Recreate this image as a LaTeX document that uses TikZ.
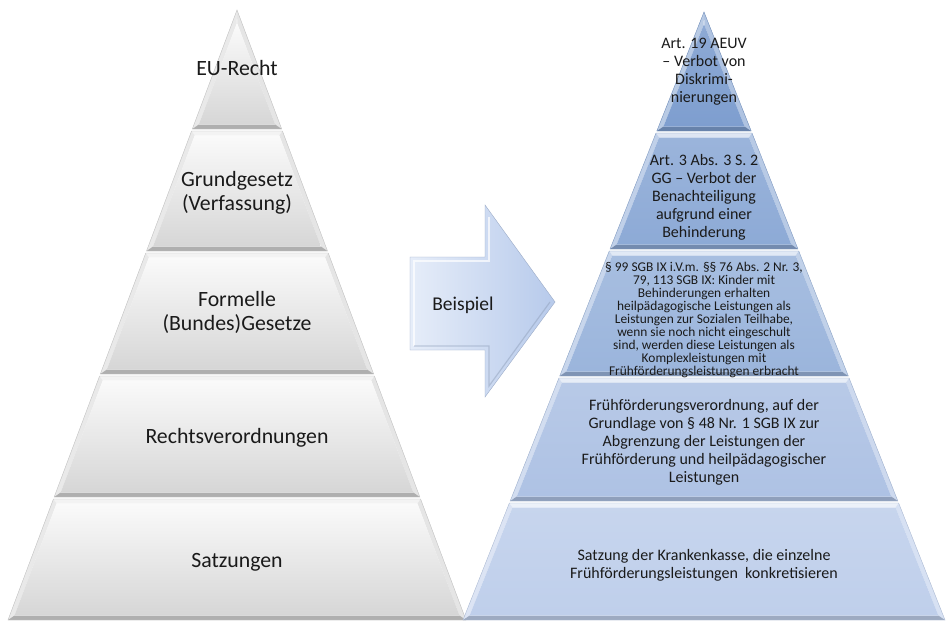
\documentclass[tikz,border=0pt]{standalone}
\usepackage{fontspec}
\setmainfont{Carlito}
\definecolor{txt}{HTML}{1A1A1A}
\definecolor{gband}{HTML}{D6D6D6}
\definecolor{bA}{HTML}{7E9ECF}
\definecolor{bB}{HTML}{8DAAD6}
\definecolor{bC}{HTML}{9BB5DC}
\definecolor{bD}{HTML}{AEC2E4}
\definecolor{bE}{HTML}{BFCFEB}
\definecolor{arL}{HTML}{E6EDF9}
\definecolor{arR}{HTML}{B7CAEB}
\newcommand\bevband[8]{%
  \pgfmathsetmacro\pyrH{#3-#2}%
  \pgfmathsetmacro\pyrk{#4/\pyrH}%
  \pgfmathsetmacro\pyrd{4.5}%
  \pgfmathsetmacro\pyrdh{\pyrd*sqrt(1+\pyrk*\pyrk)}%
  \pgfmathsetmacro\pyrwt{\pyrk*(#5-#2)}%
  \pgfmathsetmacro\pyrwb{\pyrk*(#6-#2)}%
  \pgfmathsetmacro\pyryti{max(#5+\pyrd,#2+\pyrdh/\pyrk+1)}%
  \pgfmathsetmacro\pyrybi{#6-\pyrd}%
  \pgfmathsetmacro\pyrwti{max(0,\pyrk*(\pyryti-#2)-\pyrdh)}%
  \pgfmathsetmacro\pyrwbi{\pyrk*(\pyrybi-#2)-\pyrdh}%
  \coordinate (TL) at (#1-\pyrwt,#5);
  \coordinate (TR) at (#1+\pyrwt,#5);
  \coordinate (BR) at (#1+\pyrwb,#6);
  \coordinate (BL) at (#1-\pyrwb,#6);
  \coordinate (tl) at (#1-\pyrwti,\pyryti);
  \coordinate (tr) at (#1+\pyrwti,\pyryti);
  \coordinate (br) at (#1+\pyrwbi,\pyrybi);
  \coordinate (bl) at (#1-\pyrwbi,\pyrybi);
  \fill[#7!30!white] (TL)--(TR)--(tr)--(tl)--cycle;
  \fill[#7!55!white] (TL)--(tl)--(bl)--(BL)--cycle;
  \fill[#7!62!white] (TR)--(BR)--(br)--(tr)--cycle;
  \fill[#7!82!black] (BL)--(bl)--(br)--(BR)--cycle;
  \shade[top color=#7!#8!white, bottom color=#7] (tl)--(tr)--(br)--(bl)--cycle;
  \draw[#7!90!black, line width=0.4pt] (TL)--(TR)--(BR)--(BL)--cycle;
}
\tikzset{
  lbl/.style={text=txt, align=center, inner sep=0pt},
  lefttxt/.style={lbl, font=\fontsize{21.8}{24}\selectfont},
  righttxt/.style={lbl, font=\fontsize{16}{18}\selectfont},
  smalltxt/.style={lbl, font=\fontsize{13.4}{12.9}\selectfont},
}
\begin{document}
\begin{tikzpicture}[x=1pt,y=-1pt]
\useasboundingbox (0,0) rectangle (947,624);
\fill[white] (0,0) rectangle (947,624);
% left pyramid
\bevband{237}{10}{620}{229}{10}{129}{gband}{12}
\bevband{237}{10}{620}{229}{131}{251}{gband}{12}
\bevband{237}{10}{620}{229}{253}{374}{gband}{12}
\bevband{237}{10}{620}{229}{376}{497}{gband}{12}
\bevband{237}{10}{620}{229}{499}{620}{gband}{12}
% arrow
\coordinate (a1) at (410,257);
\coordinate (a2) at (485,257);
\coordinate (a3) at (485,205);
\coordinate (a4) at (555,302);
\coordinate (a5) at (485,397);
\coordinate (a6) at (485,350);
\coordinate (a7) at (410,350);
\shade[left color=arL, right color=arR, draw=arR!85!black, line width=0.4pt]
  (a1)--(a2)--(a3)--(a4)--(a5)--(a6)--(a7)--cycle;
\draw[white, line width=1.2pt, opacity=0.7] (414,346)--(414,261)--(489,261)--(489,217);
\draw[arR!80!black, line width=1.2pt, opacity=0.5] (414,346)--(489,346)--(489,386)--(550,302);
% right pyramid
\bevband{704}{12}{620}{241}{12}{131}{bA}{88}
\bevband{704}{12}{620}{241}{133}{249}{bB}{88}
\bevband{704}{12}{620}{241}{251}{376}{bC}{88}
\bevband{704}{12}{620}{241}{378}{501}{bD}{88}
\bevband{704}{12}{620}{241}{503}{620}{bE}{88}
% left texts
\node[lefttxt] (eu) at (237,68) {EU-Recht};
\node[lefttxt] (gg) at (237,193) {Grundgesetz\\(Verfassung)};
\node[lefttxt] (fg) at (237,312) {Formelle\\(Bundes)Gesetze};
\node[lefttxt] (rv) at (237,438) {Rechtsverordnungen};
\node[lefttxt] (sa) at (237,562) {Satzungen};
% arrow text
\node[lbl, font=\fontsize{19.5}{22}\selectfont] (bsp) at (463,305) {Beispiel};
% right texts
\node[righttxt] (r1) at (704,72) {Art. 19 AEUV\\– Verbot von\\Diskrimi-\\nierungen};
\node[righttxt] (r2) at (704,197) {Art. 3 Abs. 3 S. 2\\GG – Verbot der\\Benachteiligung\\aufgrund einer\\Behinderung};
\node[smalltxt] (r3) at (704,320) {§ 99 SGB IX i.V.m. §§ 76 Abs. 2 Nr. 3,\\79, 113 SGB IX: Kinder mit\\Behinderungen erhalten\\heilpädagogische Leistungen als\\Leistungen zur Sozialen Teilhabe,\\wenn sie noch nicht eingeschult\\sind, werden diese Leistungen als\\Komplexleistungen mit\\Frühförderungsleistungen erbracht};
\node[righttxt] (r4) at (704,442) {Frühförderungsverordnung, auf der\\Grundlage von § 48 Nr. 1 SGB IX zur\\Abgrenzung der Leistungen der\\Frühförderung und heilpädagogischer\\Leistungen};
\node[righttxt] (r5) at (704,565) {Satzung der Krankenkasse, die einzelne\\Frühförderungsleistungen\ \ konkretisieren};
\end{tikzpicture}
\end{document}
